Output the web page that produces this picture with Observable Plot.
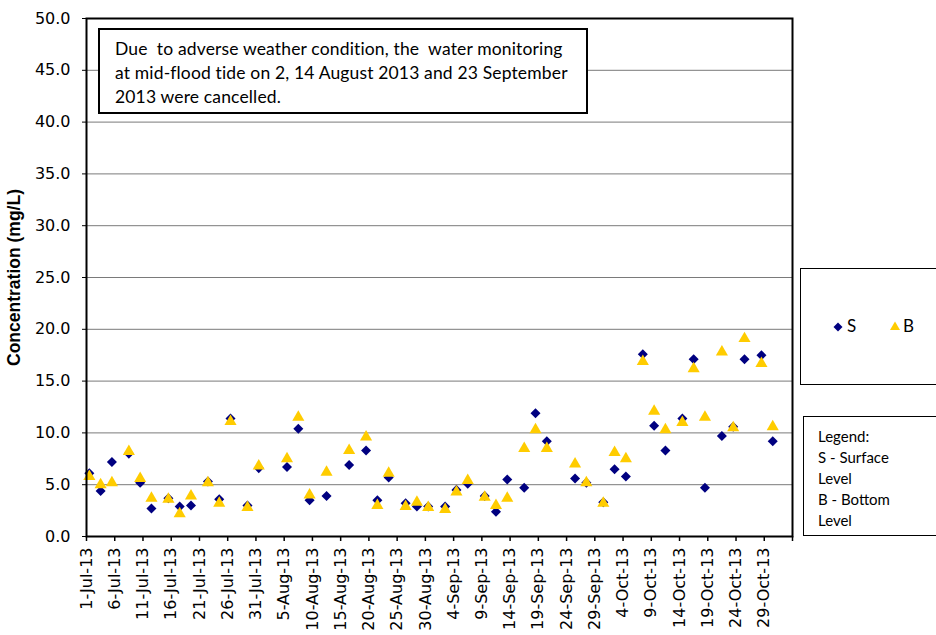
<!DOCTYPE html>
<html>
<head>
<meta charset="utf-8">
<script src="https://cdn.jsdelivr.net/npm/d3@7"></script>
<script src="https://cdn.jsdelivr.net/npm/@observablehq/plot@0.6"></script>
<style>
  html, body { margin: 0; padding: 0; background: #fff; }
  #wrap { position: relative; width: 936px; height: 635px; overflow: hidden; background: #fff; }
  #chart svg { display: block; }
  g[aria-label="y-axis label"] text { font-weight: bold; font-family: "Liberation Sans", Arial, sans-serif; font-size: 17.5px; }
  .note { position: absolute; left: 98px; top: 28px; width: 490px; height: 86px; border: 2px solid #000; background: #fff;
          font-family: Lato, "Open Sans", sans-serif; font-size: 17.5px; letter-spacing: 0.15px; line-height: 24px; padding: 7px 0 0 15px; box-sizing: border-box; color: #000; white-space: nowrap; }
  .leg1 { position: absolute; left: 800px; top: 268px; width: 150px; height: 117px; border: 1.5px solid #000; background: #fff; box-sizing: border-box; }
  .leg1 span { position: absolute; top: 46px; font-family: Lato, sans-serif; font-size: 17px; color: #000; }
  .leg1 svg { position: absolute; }
  .leg2 { position: absolute; left: 803px; top: 416px; width: 150px; height: 120px; border: 1.5px solid #000; background: #fff; box-sizing: border-box;
          font-family: Lato, sans-serif; font-size: 15px; line-height: 21px; padding: 9px 0 0 14px; color: #000; }
</style>
</head>
<body>
<div id="wrap">
  <div id="chart"></div>
  <div class="note">Due&nbsp; to adverse weather condition, the&nbsp; water monitoring<br>at mid-flood tide on 2, 14 August 2013 and 23 September<br>2013 were cancelled.</div>
  <div class="leg1">
    <svg style="left:31px;top:52px" width="12" height="12"><path d="M6,1.5L10.5,6L6,10.5L1.5,6Z" fill="#000080"/></svg>
    <span style="left:46px">S</span>
    <svg style="left:88px;top:51px" width="12" height="12"><path d="M6,1.5L11,10L1,10Z" fill="#FFCC00"/></svg>
    <span style="left:102px">B</span>
  </div>
  <div class="leg2">Legend:<br>S - Surface<br>Level<br>B - Bottom<br>Level</div>
</div>
<script>
// Sampling dates (mid-flood tide)
const sampleDates = [
  "2013-07-01","2013-07-03","2013-07-05","2013-07-08","2013-07-10","2013-07-12","2013-07-15","2013-07-17","2013-07-19","2013-07-22","2013-07-24","2013-07-26","2013-07-29","2013-07-31",
  "2013-08-05","2013-08-07","2013-08-09","2013-08-12","2013-08-16","2013-08-19","2013-08-21","2013-08-23","2013-08-26","2013-08-28","2013-08-30",
  "2013-09-02","2013-09-04","2013-09-06","2013-09-09","2013-09-11","2013-09-13","2013-09-16","2013-09-18","2013-09-20","2013-09-25","2013-09-27","2013-09-30",
  "2013-10-02","2013-10-04","2013-10-07","2013-10-09","2013-10-11","2013-10-14","2013-10-16","2013-10-18","2013-10-21","2013-10-23","2013-10-25","2013-10-28","2013-10-30"
];
// S - Surface level (mg/L)
const surface = [
  6.1,4.4,7.2,8.0,5.2,2.7,3.7,2.9,3.0,5.3,3.6,11.4,3.0,6.6,
  6.7,10.4,3.5,3.9,6.9,8.3,3.5,5.7,3.2,2.9,2.9,
  2.9,4.5,5.1,3.9,2.4,5.5,4.7,11.9,9.2,5.6,5.2,3.3,
  6.5,5.8,17.6,10.7,8.3,11.4,17.1,4.7,9.7,10.6,17.1,17.5,9.2
];
// B - Bottom level (mg/L)
const bottom = [
  5.8,5.0,5.2,8.2,5.6,3.7,3.6,2.2,3.9,5.2,3.2,11.1,2.8,6.8,
  7.5,11.5,4.0,6.2,8.3,9.6,3.0,6.1,2.9,3.3,2.8,
  2.6,4.3,5.4,3.8,3.0,3.7,8.5,10.3,8.5,7.0,5.2,3.2,
  8.1,7.5,16.9,12.1,10.3,11.0,16.2,11.5,17.8,10.5,19.1,16.7,10.6
];
// x-axis tick labels (every 5 days) and axis end
const xTickLabels = ["1-Jul-13","6-Jul-13","11-Jul-13","16-Jul-13","21-Jul-13","26-Jul-13","31-Jul-13","5-Aug-13","10-Aug-13","15-Aug-13","20-Aug-13","25-Aug-13","30-Aug-13","4-Sep-13","9-Sep-13","14-Sep-13","19-Sep-13","24-Sep-13","29-Sep-13","4-Oct-13","9-Oct-13","14-Oct-13","19-Oct-13","24-Oct-13","29-Oct-13"];
const xAxisEnd = "3-Nov-13";
const yTicks = [0,5,10,15,20,25,30,35,40,45,50];

const parseLabel = d3.utcParse("%d-%b-%y");
const parseDate = d3.utcParse("%Y-%m-%d");
const tickDates = xTickLabels.map(parseLabel);
const endDate = parseLabel(xAxisEnd);
const labelByTime = new Map(tickDates.map((d, i) => [+d, xTickLabels[i]]));

const data = sampleDates.map((s, i) => ({
  date: d3.utcHour.offset(parseDate(s), 12), // Excel places points mid-day
  S: surface[i],
  B: bottom[i]
}));

const chart = Plot.plot({
  width: 936,
  height: 635,
  marginLeft: 86,
  marginRight: 144,
  marginTop: 18,
  marginBottom: 99,
  style: { fontFamily: "DejaVu Sans, sans-serif", fontSize: "16px", color: "#000", background: "#fff", overflow: "visible" },
  x: { type: "utc", domain: [tickDates[0], endDate] },
  y: { domain: [0, 50] },
  marks: [
    Plot.gridY(yTicks, { stroke: "#7a7a7a", strokeOpacity: 1, strokeWidth: 1 }),
    Plot.dot(data, { x: "date", y: "S", symbol: "square", rotate: 45, r: 4, fill: "#000080", stroke: "none" }),
    Plot.dot(data, { x: "date", y: "B", symbol: "triangle", r: 4.5, fill: "#FFCC00", stroke: "none" }),
    Plot.frame({ stroke: "#000", strokeWidth: 2 }),
    Plot.axisX({
      ticks: [...tickDates, endDate],
      tickFormat: d => labelByTime.get(+d) ?? "",
      tickRotate: -90,
      tickSize: 5,
      tickPadding: 6,
      stroke: "#000",
      strokeWidth: 1.5,
      label: null
    }),
    Plot.axisY({
      ticks: yTicks,
      tickFormat: d => d.toFixed(1),
      tickSize: 4,
      tickPadding: 12,
      stroke: "#000",
      label: "Concentration (mg/L)",
      labelAnchor: "center",
      labelArrow: "none",
      labelOffset: 79
    })
  ]
});
document.getElementById("chart").appendChild(chart);
</script>
</body>
</html>
